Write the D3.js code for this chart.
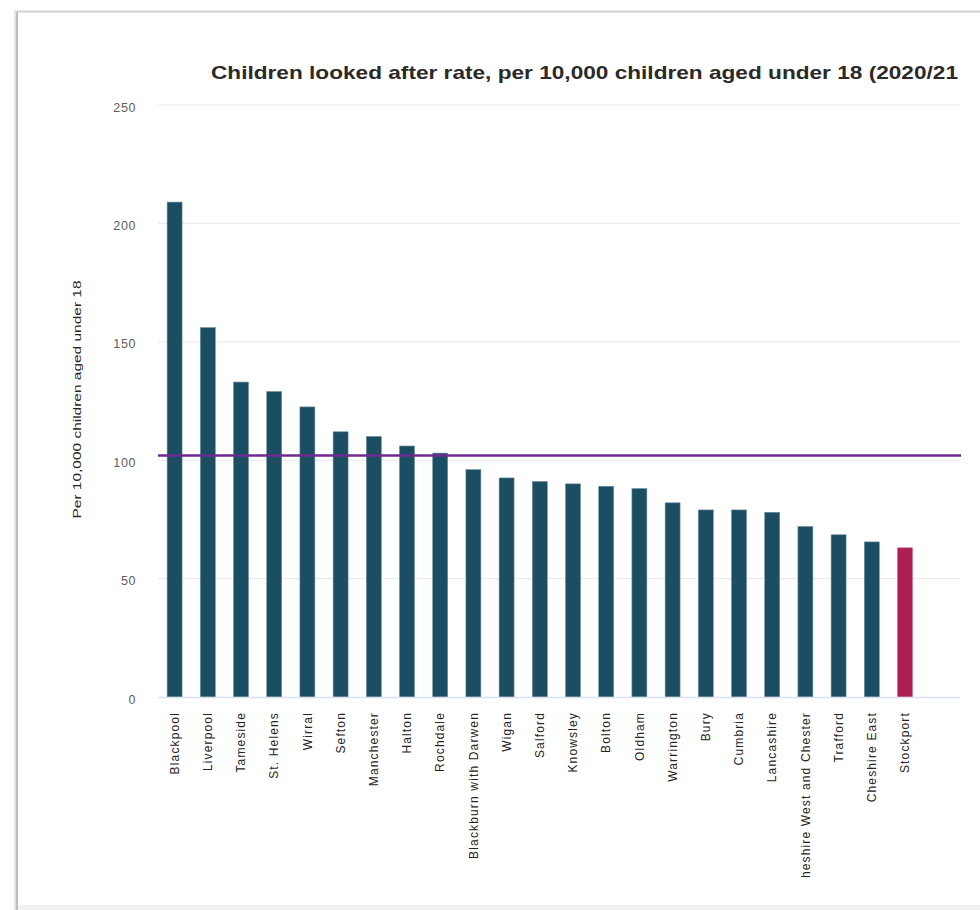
<!DOCTYPE html>
<html>
<head>
<meta charset="utf-8">
<script src="https://cdn.jsdelivr.net/npm/d3@7"></script>
<style>
  html, body { margin: 0; padding: 0; background: #ffffff; }
  svg { display: block; }
</style>
</head>
<body>
<svg id="chart" width="980" height="910"></svg>
<script>
// Local authorities, ordered by rate
const areas = [
  "Blackpool", "Liverpool", "Tameside", "St. Helens", "Wirral", "Sefton",
  "Manchester", "Halton", "Rochdale", "Blackburn with Darwen", "Wigan",
  "Salford", "Knowsley", "Bolton", "Oldham", "Warrington", "Bury",
  "Cumbria", "Lancashire", "Cheshire West and Chester", "Trafford",
  "Cheshire East", "Stockport"
];
// Children looked after per 10,000 children aged under 18 (2020/21)
const rates = [
  209, 156, 133, 129, 122.5, 112, 110, 106, 103, 96, 92.5,
  91, 90, 89, 88, 82, 79, 79, 78, 72, 68.5, 65.5, 63
];
// Reference line (average rate)
const averageRate = [102];
const highlightArea = ["Stockport"];
const yTicks = [0, 50, 100, 150, 200, 250];

const titleText = "Children looked after rate, per 10,000 children aged under 18 (2020/21";
const yTitleText = "Per 10,000 children aged under 18";

const data = areas.map((a, i) => ({ area: a, rate: rates[i] }));

const svg = d3.select("#chart");

// Card frame with soft edges
const frame = svg.append("g");
frame.append("rect").attr("x", 14).attr("y", 10).attr("width", 3).attr("height", 900)
  .attr("fill", "#e4e4e4");
frame.append("rect").attr("x", 16).attr("y", 11).attr("width", 2).attr("height", 899)
  .attr("fill", "#bdbdbd");
frame.append("rect").attr("x", 16).attr("y", 10).attr("width", 964).attr("height", 1)
  .attr("fill", "#ececec");
frame.append("rect").attr("x", 16).attr("y", 11).attr("width", 964).attr("height", 1.5)
  .attr("fill", "#cfcfcf");
frame.append("rect").attr("x", 18).attr("y", 905).attr("width", 962).attr("height", 5)
  .attr("fill", "#f0f0f0");

const plotLeft = 158, plotRight = 960;
const x = d3.scaleBand()
  .domain(areas)
  .range([plotLeft, plotLeft + 33.2 * areas.length])
  .paddingInner(0.55)
  .paddingOuter(0.275);

const y = d3.scaleLinear().domain([0, 250]).range([697, 105]);

// Title
svg.append("text")
  .attr("x", 211).attr("y", 79)
  .attr("font-family", "Liberation Sans, Arial, sans-serif")
  .attr("font-weight", "bold")
  .attr("font-size", 19)
  .attr("fill", "#2b2a29")
  .attr("textLength", 747)
  .attr("lengthAdjust", "spacingAndGlyphs")
  .text(titleText);

// Gridlines
svg.append("g")
  .selectAll("line")
  .data(yTicks.filter(t => t > 0))
  .join("line")
  .attr("x1", plotLeft).attr("x2", plotRight)
  .attr("y1", d => y(d)).attr("y2", d => y(d))
  .attr("stroke", "#ebebeb").attr("stroke-width", 1.2);

// Y axis labels
const yAxis = d3.axisLeft(y).tickValues(yTicks).tickSize(0).tickPadding(0);
const yG = svg.append("g").attr("transform", "translate(136,2)").call(yAxis);
yG.select(".domain").remove();
yG.selectAll("text")
  .attr("font-family", "Liberation Sans, Arial, sans-serif")
  .attr("font-size", 12.5)
  .attr("letter-spacing", 0.6)
  .attr("fill", "#605e5c");

// Y axis title
svg.append("text")
  .attr("transform", "translate(77,399.5) rotate(-90)")
  .attr("text-anchor", "middle")
  .attr("dominant-baseline", "central")
  .attr("font-family", "Liberation Sans, Arial, sans-serif")
  .attr("font-size", 11.5)
  .attr("fill", "#252423")
  .attr("textLength", 238)
  .attr("lengthAdjust", "spacingAndGlyphs")
  .text(yTitleText);

// Bars
svg.append("g")
  .selectAll("rect")
  .data(data)
  .join("rect")
  .attr("x", d => x(d.area))
  .attr("width", x.bandwidth())
  .attr("y", d => y(d.rate))
  .attr("height", d => y(0) - y(d.rate))
  .attr("fill", d => highlightArea.includes(d.area) ? "#ad1e55" : "#1b4d63")
  .attr("stroke", d => highlightArea.includes(d.area) ? "#c9698d" : "#6d8c9a")
  .attr("stroke-width", 0.6);

// Baseline
svg.append("line")
  .attr("x1", plotLeft).attr("x2", plotRight)
  .attr("y1", y(0) + 0.5).attr("y2", y(0) + 0.5)
  .attr("stroke", "#d9e0ef").attr("stroke-width", 1.5);

// Average reference line
svg.append("g")
  .selectAll("line")
  .data(averageRate)
  .join("line")
  .attr("x1", plotLeft).attr("x2", 961)
  .attr("y1", d => y(d)).attr("y2", d => y(d))
  .attr("stroke", "#6e2a8e").attr("stroke-width", 2.6);

// X axis labels (rotated), clipped at the bottom of the card
svg.append("clipPath").attr("id", "xlabel-clip")
  .append("rect").attr("x", 140).attr("y", 700).attr("width", 820).attr("height", 177);

const xAxis = d3.axisBottom(x).tickSize(0).tickPadding(0);
const xG = svg.append("g")
  .attr("clip-path", "url(#xlabel-clip)")
  .append("g")
  .attr("transform", `translate(0,${y(0)})`)
  .call(xAxis);
xG.select(".domain").remove();
xG.selectAll(".tick text")
  .attr("transform", "translate(0,15) rotate(-90)")
  .attr("x", 0).attr("y", 0).attr("dy", "0.35em")
  .attr("text-anchor", "end")
  .attr("font-family", "Liberation Sans, Arial, sans-serif")
  .attr("font-size", 12)
  .attr("letter-spacing", 1.15)
  .attr("fill", "#252423");
</script>
</body>
</html>
